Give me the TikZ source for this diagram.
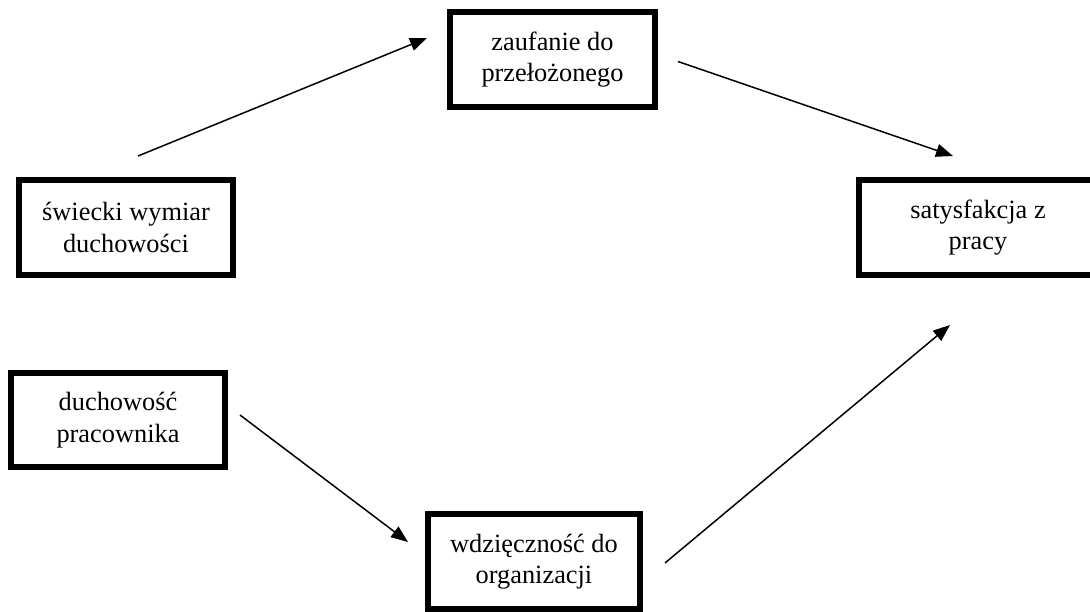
\documentclass[tikz,border=0pt]{standalone}
\usepackage{fontspec}
\setmainfont{Liberation Serif}
\usetikzlibrary{positioning, arrows.meta, calc}

\begin{document}
\begin{tikzpicture}[
            x=0.02cm, y=-0.02cm,
            block/.style={rectangle, draw, line width=0.11cm, minimum width=4.29cm, minimum height=1.91cm,
                          align=center, font=\fontsize{15}{18}\selectfont, inner sep=1pt},
            arr/.style={-{Triangle[length=0.34cm, width=0.26cm]}, line width=0.03cm}
        ]
            \useasboundingbox (0,0) rectangle (1090,612);

            % Boxes
            \node[block, minimum width=4.11cm] (zaufanie) at (552.5,59.5) {zaufanie do\\przełożonego};
            \node[block] (swiecki) at (126,227.5) {świecki wymiar\\duchowości};
            \node[block, minimum width=4.77cm] (satysfakcja) at (978,227.5) {satysfakcja z\\pracy};
            \node[block, minimum height=1.89cm] (duchowosc) at (118,420) {duchowość\\pracownika};
            \node[block, minimum width=4.25cm, minimum height=1.9cm] (wdziecznosc) at (534,561.5) {wdzięczność do\\organizacji};

            % Arrows
            \draw[arr] ($(swiecki.north)+(12,-21)$) -- ($(zaufanie.west)+(-20,-21.5)$);
            \draw[arr] ($(zaufanie.east)+(20,2)$) -- ($(satysfakcja.north)+(-25,-21)$);
            \draw[arr] ($(duchowosc.east)+(12,-5)$) -- ($(wdziecznosc.west)+(-17,-19.5)$);
            \draw[arr] ($(wdziecznosc.east)+(22,1.5)$) -- ($(satysfakcja.south)+(-28,47)$);

        \end{tikzpicture}
\end{document}
